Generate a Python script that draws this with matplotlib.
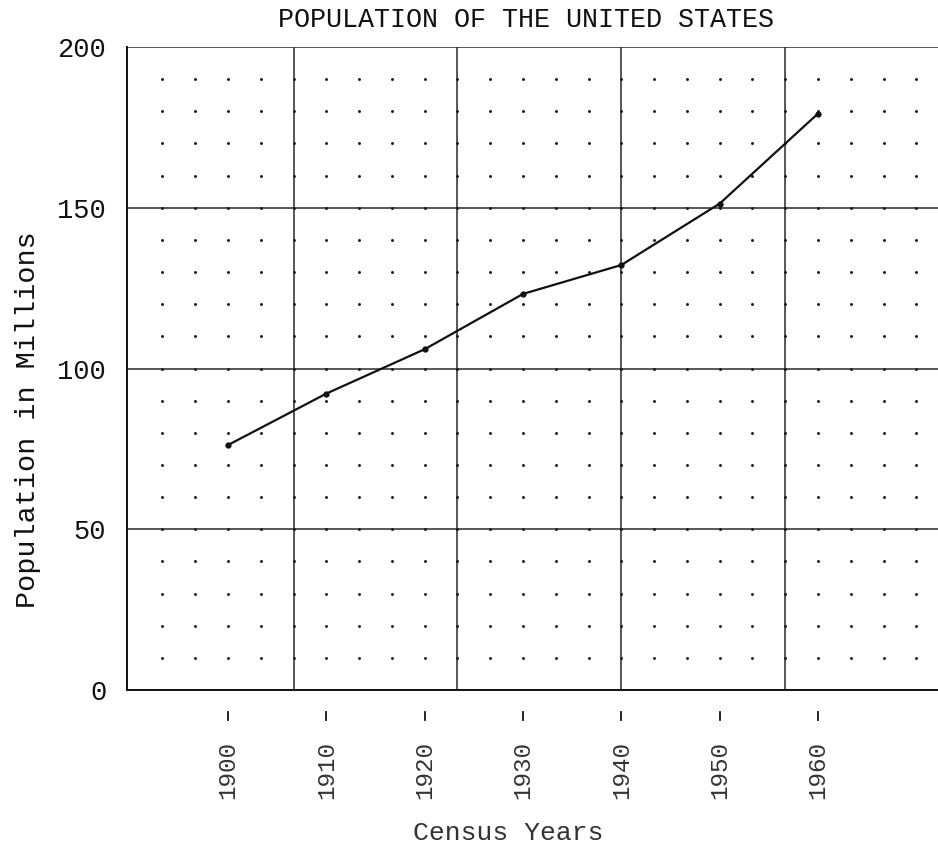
import numpy as np
import matplotlib
matplotlib.use("Agg")
import matplotlib.pyplot as plt
import matplotlib.transforms as mtransforms

# Census population of the United States (millions)
years = [1900, 1910, 1920, 1930, 1940, 1950, 1960]
population = [76.2, 92.2, 106.0, 123.2, 132.2, 151.3, 179.3]
year_labels = ["1900", "1910", "1920", "1930", "1940", "1950", "1960"]
y_ticks = [0, 50, 100, 150, 200]

FONT = "Liberation Mono"
INK = "#111111"

fig = plt.figure(figsize=(9.38, 8.5), dpi=100)
ax = fig.add_axes([0.1354, 0.1882, 0.8646, 0.7565])

x0, x1 = 1889.73, 1972.2
ax.set_xlim(x0, x1)
ax.set_ylim(0, 200)

# graph-paper grid: heavy lines every 5 cells, dots at every cell corner
cell_x = 10.0 / 3.0
major_x = 1890 + np.arange(1, 6) * 5 * cell_x
for xv in major_x:
    ax.axvline(xv, color="#2a2a2a", lw=1.1, zorder=1)
for yv in [50, 100, 150, 200]:
    ax.axhline(yv, color="#2a2a2a", lw=1.1, zorder=1)
dot_x = 1890 + np.arange(1, 25) * cell_x
dot_y = np.arange(10, 200, 10)
gx, gy = np.meshgrid(dot_x, dot_y)
ax.scatter(gx.ravel(), gy.ravel(), s=4.5, color="#1a1a1a", linewidths=0, zorder=1)

# population curve
ax.plot(years, population, color=INK, lw=1.6, marker="o", markersize=3.5,
        zorder=3, solid_joinstyle="round")

# spines
for side in ["right", "top"]:
    ax.spines[side].set_visible(False)
ax.spines["left"].set_linewidth(1.4)
ax.spines["bottom"].set_linewidth(1.4)
ax.spines["left"].set_color(INK)
ax.spines["bottom"].set_color(INK)

# y axis ticks
ax.set_yticks(y_ticks)
ax.set_yticklabels([str(v) for v in y_ticks], fontfamily=FONT, fontsize=19.5)
ax.tick_params(axis="y", length=0, pad=15, colors=INK)

# x axis ticks: short detached marks below the frame, labels turned upright
ax.set_xticks(years)
ax.set_xticklabels(year_labels, rotation=90, fontfamily=FONT, fontsize=17.5,
                   color="#333333")
ax.tick_params(axis="x", length=0, pad=37)
blend = mtransforms.blended_transform_factory(ax.transData, ax.transAxes)
for yr in years:
    ax.plot([yr, yr], [-0.034, -0.047], transform=blend, color=INK, lw=1.3,
            clip_on=False)

ax.set_xlabel("Census Years", fontfamily=FONT, fontsize=19, color="#333333")
ax.xaxis.set_label_coords(0.47, -0.203)
ax.set_ylabel("Population in Millions", fontfamily=FONT, fontsize=20.5,
              color=INK)
ax.yaxis.set_label_coords(-0.106, 0.42)

fig.text(0.561, 0.976, "POPULATION OF THE UNITED STATES", ha="center",
         va="center", fontfamily=FONT, fontsize=19.3, color=INK)

fig.savefig("out.png", dpi=100, facecolor="white")
